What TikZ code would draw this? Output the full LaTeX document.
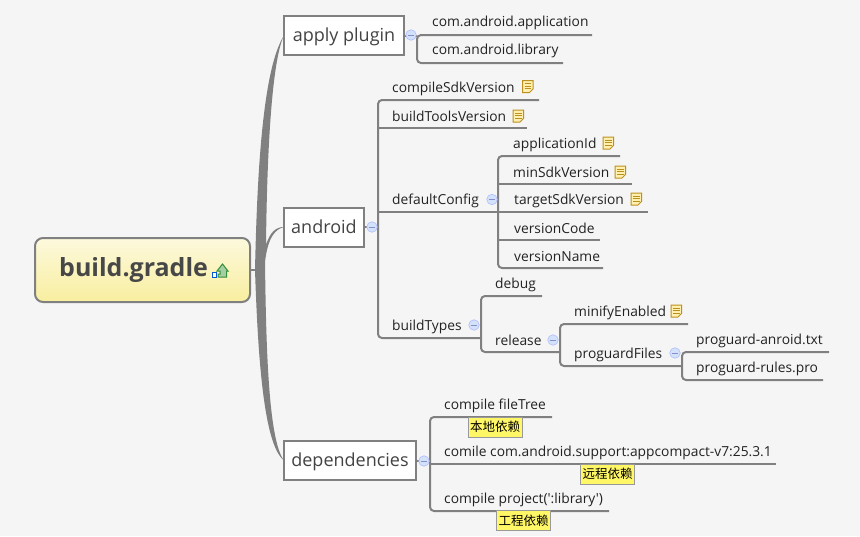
\documentclass[tikz,border=0pt]{standalone}
\usepackage{fontspec}
\setmainfont{Open Sans}
\newfontfamily\plainfont{Open Sans}
\newfontfamily\cjk{Noto Sans CJK SC}
\definecolor{bgcol}{HTML}{F5F5F5}
\definecolor{linecol}{HTML}{808080}
\definecolor{inkcol}{HTML}{222222}
\definecolor{foldcol}{HTML}{D3E2FB}
\definecolor{notecol}{HTML}{FFF0B0}
\definecolor{notedge}{HTML}{BC9020}
\tikzset{
	branch/.style={draw=linecol,line width=2pt,rounded corners=4pt},
	topicbox/.style={draw=linecol,line width=2pt,fill=white,inner sep=0pt,outer sep=0pt,text height=16pt,text depth=3.5pt,text=inkcol!85,font=\fontsize{18}{20}\selectfont,anchor=west},
	leaf/.style={inner sep=0pt,anchor=base west,yshift=-5pt,text=inkcol,font=\fontsize{13.8}{15}\selectfont},
	fold/.style={circle,draw=foldcol!80!blue!90,fill=foldcol,line width=0.6pt,minimum size=10.5pt,inner sep=0pt,path picture={\draw[black!45!blue!45!white,line width=1pt] (-2.8pt,0) -- (2.8pt,0);}},
	marker/.style={draw=black!40,line width=1pt,fill=yellow!60,inner sep=0pt,minimum height=20pt,minimum width=54pt,font=\cjk\fontsize{12.5}{15}\selectfont,text=black},
	noteicon/.pic={
		\draw[draw=notedge,fill=notecol,line width=1pt] (-5,-6) -- (5.5,-6) -- (5.5,2.5) -- (2,6) -- (-5,6) -- cycle;
		\foreach \ny in {-3,-0.5,2} \draw[notedge,line width=0.7pt] (-3,\ny) -- (3.5,\ny);
	}
}
% leaf: name, text x, text y, text, bus x, line y, line end x
\def\leaf#1#2#3#4#5#6#7{
	\node[leaf] (#1) at (#2,#3) {#4};
	\coordinate (#1-a) at (#5,#6);
	\coordinate (#1-b) at (#7,#6);
}
\begin{document}
\begin{tikzpicture}[x=1pt,y=-1pt]
	%%%%% START %%%%%
	\fill[bgcol] (0,0) rectangle (860,536);
	\useasboundingbox (0,0) rectangle (860,536);

	\node[draw=linecol,line width=2pt,outer sep=0pt,rounded corners=8pt,top color={rgb,255:red,253;green,249;blue,221},bottom color={rgb,255:red,248;green,238;blue,159},minimum width=215pt,minimum height=64pt,inner sep=0pt] (root) at (142.5,270) {};
	\node[anchor=west,inner sep=0pt,text=black!72,font=\bfseries\fontsize{25}{28}\selectfont] (rootlabel) at (59,270) {build.gradle};
	% icon
	\draw[blue!60!cyan!85!black,line width=1pt,fill=white] (212.5,272.5) rectangle (216,277);
	\draw[green!45!black!80,line width=1pt,fill=green!45!black!35] (218,277) -- (218,274) -- (220,274) -- (220,271) -- (217,271) -- (222.5,264) -- (228,271) -- (226.5,271) -- (226.5,277) -- cycle;

	\node[topicbox,minimum width=120pt,minimum height=39pt] (apply) at (284,35.5) {apply plugin};
	\node[topicbox,minimum width=80pt,minimum height=39pt] (android) at (284,227) {android};
	\node[topicbox,minimum width=132pt,minimum height=39pt] (deps) at (284,460.5) {dependencies};

	% stem
	\draw[linecol,line width=2pt] (root.east) -- (258,270);
	\fill[linecol] (255,270) .. controls (257,180) and (262,70) .. (apply.west) .. controls (272,60) and (267,150) .. (266,245) .. controls (270,232) and (276,227) .. (android.west) .. controls (276,229) and (268,236) .. (265,262) .. controls (266,340) and (268,440) .. (deps.west) .. controls (264,445) and (258,360) .. (255,270) -- cycle;

	% apply plugin
	\leaf{appl}{432}{21}{com.android.application}{417}{35}{592}
	\leaf{lib}{432}{49}{com.android.library}{417}{63}{563}
	\draw[branch] (appl-b) -- (appl-a) -- (lib-a) -- (lib-b);
	\draw[branch] (apply.east) -- (apply.east -| appl-a);

	% android
	\leaf{csdk}{392}{87}{compileSdkVersion}{378}{100}{539}
	\leaf{btool}{392}{116}{buildToolsVersion}{378}{128}{527}
	\leaf{dcfg}{392}{199}{defaultConfig}{378}{212}{498}
	\leaf{btype}{392}{325}{buildTypes}{378}{338}{481}
	\draw[branch] (csdk-b) -- (csdk-a) -- (btype-a) -- (btype-b);
	\draw[branch] (btool-a) -- (btool-b);
	\draw[branch] (dcfg-a) -- (dcfg-b);
	\draw[branch] (android.east) -- (android.east -| csdk-a);

	% defaultConfig
	\leaf{appid}{513}{143}{applicationId}{498}{156}{620}
	\leaf{minsdk}{513}{172}{minSdkVersion}{498}{184}{632}
	\leaf{tsdk}{514}{199}{targetSdkVersion}{498}{212}{648}
	\leaf{vcode}{514}{228}{versionCode}{498}{240}{600}
	\leaf{vname}{514}{256}{versionName}{498}{268}{603}
	\draw[branch] (appid-b) -- (appid-a) -- (vname-a) -- (vname-b);
	\draw[branch] (minsdk-a) -- (minsdk-b);
	\draw[branch] (tsdk-a) -- (tsdk-b);
	\draw[branch] (vcode-a) -- (vcode-b);

	% buildTypes
	\leaf{debug}{495}{283}{debug}{481}{296}{542}
	\leaf{rel}{495}{340}{release}{481}{352}{560}
	\draw[branch] (debug-b) -- (debug-a) -- (rel-a) -- (rel-b);
	\leaf{minify}{574}{311}{minifyEnabled}{560}{324}{688}
	\leaf{pfiles}{574}{353}{proguardFiles}{560}{366}{682}
	\draw[branch] (minify-b) -- (minify-a) -- (pfiles-a) -- (pfiles-b);
	\leaf{pand}{696}{339}{proguard-anroid.txt}{682}{352}{829}
	\leaf{prul}{696}{367}{proguard-rules.pro}{682}{380}{823}
	\draw[branch] (pand-b) -- (pand-a) -- (prul-a) -- (prul-b);

	% dependencies
	\leaf{ctree}{444}{404}{compile fileTree}{430}{417}{552}
	\leaf{cappc}{444}{451}{comile com.android.support:appcompact-v7:25.3.1}{430}{464}{776}
	\leaf{cproj}{444}{498}{\plainfont compile project(':library')}{430}{511}{609}
	\draw[branch] (ctree-b) -- (ctree-a) -- (cproj-a) -- (cproj-b);
	\draw[branch] (cappc-a) -- (cappc-b);
	\draw[branch] (deps.east) -- (deps.east -| ctree-a);
	\node[marker] (mlocal) at (495,427) {本地依赖};
	\node[marker] (mremote) at (607.5,474) {远程依赖};
	\node[marker] (mproject) at (523.5,520.5) {工程依赖};

	% collapse marks
	\node[fold] (fapply) at (411,35) {};
	\node[fold] (fandroid) at (372,227) {};
	\node[fold] (fdeps) at (424,461) {};
	\node[fold] (fcfg) at (492,199.5) {};
	\node[fold] (ftypes) at (474,325) {};
	\node[fold] (frel) at (553,340) {};
	\node[fold] (ffiles) at (675,353) {};

	% note icons
	\foreach \nx/\nyy in {527.5/86.5,518/116,608/143,620/172,636/199,676/311}
		\pic at (\nx,\nyy) {noteicon};
	%%%%% END %%%%%
\end{tikzpicture}
\end{document}
